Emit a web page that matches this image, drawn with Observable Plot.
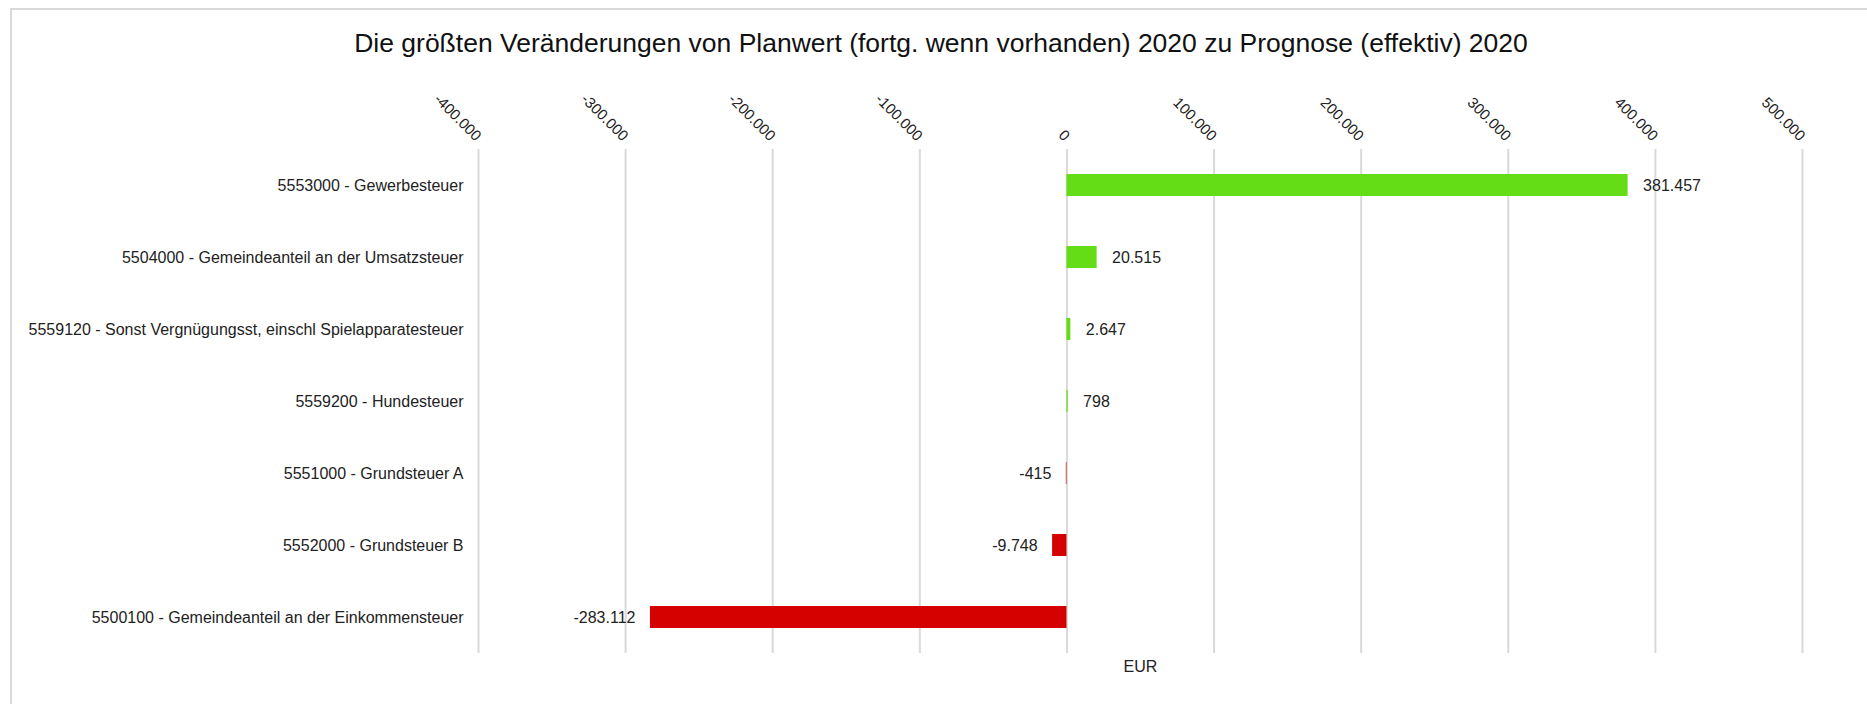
<!DOCTYPE html>
<html>
<head>
<meta charset="utf-8">
<script src="https://cdn.jsdelivr.net/npm/d3@7"></script>
<script src="https://cdn.jsdelivr.net/npm/@observablehq/plot@0.6"></script>
<style>
  html, body { margin: 0; padding: 0; background: #fff; }
  body { position: relative; width: 1867px; height: 704px; overflow: hidden; font-family: "Liberation Sans", Arial, sans-serif; }
  #frame { position: absolute; left: 10px; top: 8px; width: 1870px; height: 720px; border-left: 2px solid #d9d9d9; border-top: 2px solid #d9d9d9; }
  #title { position: absolute; left: 0; top: 30px; width: 1882px; text-align: center; font-size: 26.5px; line-height: 1; color: #111; white-space: nowrap; }
  #chart { position: absolute; left: 0; top: 0; }
</style>
</head>
<body>
<div id="frame"></div>
<div id="title">Die größten Veränderungen von Planwert (fortg. wenn vorhanden) 2020 zu Prognose (effektiv) 2020</div>
<div id="chart"></div>
<script>
// Data (top to bottom)
const categories = [
  "5553000 - Gewerbesteuer",
  "5504000 - Gemeindeanteil an der Umsatzsteuer",
  "5559120 - Sonst Vergnügungsst, einschl Spielapparatesteuer",
  "5559200 - Hundesteuer",
  "5551000 - Grundsteuer A",
  "5552000 - Grundsteuer B",
  "5500100 - Gemeindeanteil an der Einkommensteuer"
];
const values = [381457, 20515, 2647, 798, -415, -9748, -283112];
const xTicks = [-400000, -300000, -200000, -100000, 0, 100000, 200000, 300000, 400000, 500000];
const axisTitle = "EUR";

const green = "#64dd17";
const red = "#d50000";

const locale = d3.formatLocale({decimal: ",", thousands: ".", grouping: [3], currency: ["", " €"], minus: "-"});
const fmt = locale.format(",d");

const data = categories.map((name, i) => ({name, value: values[i]}));

const chart = Plot.plot({
  width: 1867,
  height: 704,
  marginLeft: 478,
  marginRight: 65,
  marginTop: 146,
  marginBottom: 48,
  style: {fontFamily: '"Liberation Sans", Arial, sans-serif', fontSize: "16px", color: "#222", background: "transparent"},
  x: {domain: [-400000, 500000]},
  y: {domain: categories, paddingInner: 0.7, paddingOuter: 0.35},
  marks: [
    Plot.gridX(xTicks, {stroke: "#d9d9d9", strokeOpacity: 1, strokeWidth: 2, insetTop: 3, insetBottom: 3}),
    Plot.axisX({anchor: "top", ticks: xTicks, tickFormat: fmt, tickRotate: 45, tickSize: 0, tickPadding: 8, fontSize: 15, label: null}),
    Plot.axisY({anchor: "left", tickSize: 0, tickPadding: 15, fontSize: 16, label: null}),
    Plot.barX(data, {x: "value", y: "name", fill: d => d.value >= 0 ? green : red}),
    Plot.text(data.filter(d => d.value >= 0), {x: "value", y: "name", text: d => fmt(d.value), textAnchor: "start", dx: 15, fontSize: 16, fill: "#222"}),
    Plot.text(data.filter(d => d.value < 0), {x: "value", y: "name", text: d => fmt(d.value), textAnchor: "end", dx: -15, fontSize: 16, fill: "#222"}),
    Plot.text([axisTitle], {frameAnchor: "bottom", dy: 15, text: d => d, fontSize: 16, fill: "#222"})
  ]
});
document.getElementById("chart").appendChild(chart);
</script>
</body>
</html>
